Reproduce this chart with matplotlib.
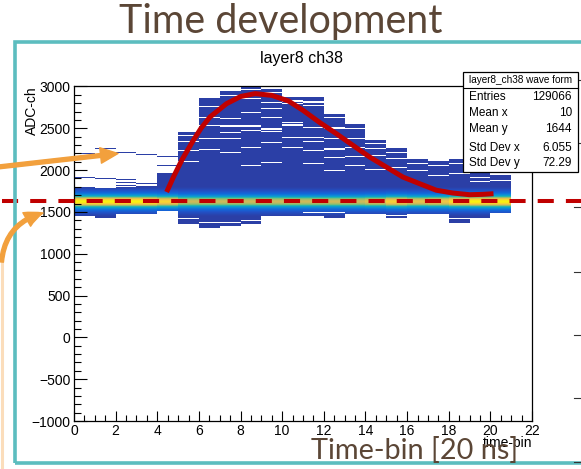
import numpy as np
import matplotlib
matplotlib.use("Agg")
import matplotlib.pyplot as plt
from matplotlib.colors import LinearSegmentedColormap
from matplotlib.patches import Rectangle, FancyArrowPatch
from matplotlib.lines import Line2D
from matplotlib.ticker import MultipleLocator

W, H, DPI = 581, 469, 100

# ------------------------------------------------------------------ data
# 2D histogram "layer8 ch38": x = time-bin (21 bins of width 1), y = ADC-ch
time_bins = list(range(0, 22))                     # bin edges 0..21
col_bottom = [1459, 1440, 1483, 1483, 1519, 1359, 1320, 1340, 1363, 1459, 1459,
              1460, 1440, 1487, 1483, 1435, 1480, 1480, 1375, 1435, 1500]
col_top = [1798, 1782, 1790, 1800, 1957, 2455, 2858, 2942, 2994, 2966, 2874,
           2874, 2667, 2547, 2356, 2260, 2129, 2109, 2129, 2129, 1937]
col_strays = [[1917, 2200], [1900, 2265], [1820, 1850, 1886, 2217], [1846, 2190],
              [2057, 2170], [], [], [], [], [], [], [], [], [], [], [], [], [], [], [], []]
col_gaps = [[], [], [], [], [],
            [2420, 2340, 2240, 2100, 1419],
            [2763, 2635, 2535, 2380, 2250, 1375],
            [2894, 2619, 2535, 2520, 2455, 2380, 2216, 1379],
            [2966, 2858, 2695, 2535, 2523, 2476, 2276, 2057, 1395],
            [2930, 2815, 2739, 2635, 2500, 2488, 2470, 2336, 2097],
            [2840, 2828, 2800, 2570, 2547, 2535, 2396, 2276],
            [2830, 2815, 2775, 2515, 2390, 2345, 2236, 2081, 1490],
            [2635, 2510, 2498, 2380, 2260, 2248, 2156, 1997, 1490],
            [2496, 2380, 2276, 2165, 2057],
            [2320, 2260, 2177, 2009],
            [2216, 2141, 2037, 1459],
            [2081, 1997],
            [2060, 1937],
            [2081, 1960, 1423],
            [2080, 1917, 1870],
            [1877]]
core_peak = [1.0, 1.0, 1.0, 1.0, 0.93, 0.8, 0.8, 0.8, 0.8, 0.8, 0.8,
             0.8, 0.8, 0.8, 0.84, 0.92, 0.86, 0.88, 0.95, 1.0, 1.0]
core_profile = [1.0, 0.98, 0.93, 0.85, 0.72, 0.58, 0.47, 0.38, 0.3, 0.24,
                0.18, 0.13, 0.09, 0.05, 0.02]
baseline_adc = 1626
adc_bin = 12
adc_lo, adc_hi = 1200, 3012

# red fitted pulse shape
fit_x = [4.45, 4.8, 5.2, 5.73, 6.1, 6.53, 7.33, 8.0, 8.7, 9.5, 10.3, 11.0, 11.8, 12.6,
         13.4, 14.2, 15.0, 15.8, 16.6, 17.4, 18.2, 19.0, 19.6, 20.15]
fit_y = [1738, 1930, 2130, 2356, 2500, 2635, 2795, 2880, 2915, 2894, 2827, 2715, 2570, 2436,
         2296, 2157, 2037, 1917, 1838, 1760, 1726, 1706, 1710, 1718]
pedestal_line = 1625

stats_title = "layer8_ch38 wave form"
stats_labels = ["Entries", "Mean x", "Mean y", "Std Dev x", "Std Dev y"]
stats_values = ["129066", "10", "1644", "6.055", "72.29"]

x_ticks = list(range(0, 23, 2))
y_ticks = list(range(-1000, 3001, 500))

# ------------------------------------------------------------------ figure
plt.rcParams["font.family"] = ["Liberation Sans", "DejaVu Sans"]
fig = plt.figure(figsize=(W / DPI, H / DPI), dpi=DPI)
fig.patch.set_facecolor("white")


def fx(px):
    return px / W


def fy(py):
    return 1 - py / H


ax = fig.add_axes([fx(74), fy(421), (532 - 74) / W, (421 - 86.5) / H])

# build histogram cells
yedges = np.arange(adc_lo, adc_hi + 1, adc_bin)
yc = (yedges[:-1] + yedges[1:]) / 2
ncol = len(col_top)
Z = np.full((len(yc), ncol), np.nan)
for c in range(ncol):
    occ = (yc >= col_bottom[c] - adc_bin / 2) & (yc <= col_top[c] + adc_bin / 2)
    for s in col_strays[c]:
        occ[int((s - adc_lo) // adc_bin)] = True
    for g in col_gaps[c]:
        occ[int((g - adc_lo) // adc_bin)] = False
    k = np.rint(np.abs(yc - baseline_adc) / adc_bin).astype(int)
    prof = np.array([core_profile[i] if i < len(core_profile) else 0.0 for i in k])
    Z[occ, c] = core_peak[c] * prof[occ]

bird = LinearSegmentedColormap.from_list("bird", [
    (0.0, "#2B3FA6"), (0.12, "#2151C6"), (0.25, "#1268DA"), (0.38, "#0E8AD6"),
    (0.5, "#0BA8C6"), (0.6, "#35B8A2"), (0.7, "#84BE74"), (0.8, "#CDB95A"),
    (0.9, "#F5C640"), (1.0, "#F9F20F")])
ax.pcolormesh(time_bins, yedges, np.ma.masked_invalid(Z), cmap=bird, vmin=0, vmax=1,
              shading="flat", antialiased=False, linewidth=0, zorder=1)

ax.plot(fit_x, fit_y, color="#C00000", lw=3.6, solid_capstyle="butt", zorder=4)
ax.plot([-0.157, 1.12], [pedestal_line, pedestal_line], transform=ax.get_yaxis_transform(),
        color="#C00000", lw=2.9, dashes=(4, 3), clip_on=False, zorder=6)

ax.set_xlim(0, 22)
ax.set_ylim(-1000, 3000)
ax.set_xticks(x_ticks)
ax.set_yticks(y_ticks)
ax.xaxis.set_minor_locator(MultipleLocator(0.5))
ax.yaxis.set_minor_locator(MultipleLocator(100))
ax.tick_params(which="both", direction="in", top=False, right=False, width=0.8,
               labelsize=10, colors="black")
ax.tick_params(axis="y", which="major", length=9.5, pad=2.5)
ax.tick_params(axis="y", which="minor", length=5)
ax.tick_params(axis="x", which="major", length=7.5, pad=2.5)
ax.tick_params(axis="x", which="minor", length=4.5)
for sp in ax.spines.values():
    sp.set_linewidth(0.9)

ax.set_ylabel("ADC-ch", fontsize=10, loc="top")
ax.yaxis.set_label_coords(-0.076, 1.0)
ax.set_xlabel("time-bin", fontsize=10, loc="right")
ax.xaxis.set_label_coords(1.0, -0.045)

# histogram title
fig.text(fx(302), fy(63.3), "layer8 ch38", ha="center", va="baseline", fontsize=11.5)

# stats box
fig.add_artist(Rectangle((fx(463), fy(172)), (578 - 463) / W, (172 - 72) / H,
                         transform=fig.transFigure, fc="white", ec="black", lw=0.9, zorder=10))
fig.add_artist(Line2D([fx(463), fx(578)], [fy(88), fy(88)], color="black", lw=0.8, zorder=11))
fig.text(fx(520.5), fy(80), stats_title, ha="center", va="center", fontsize=7.2, zorder=12)
row_y = [96.7, 113.3, 129.3, 147.7, 162.7]
for lab, val, ry in zip(stats_labels, stats_values, row_y):
    fig.text(fx(469), fy(ry), lab, ha="left", va="center", fontsize=8.5, zorder=12)
    fig.text(fx(572), fy(ry), val, ha="right", va="center", fontsize=8.5, zorder=12)

# neighbouring pad ticks at the right edge
for py in [80, 143, 207, 272, 335, 398, 462]:
    fig.add_artist(Line2D([fx(574), fx(581)], [fy(py), fy(py)], color="#333333", lw=0.8, zorder=3))

# slide decorations
teal = "#5CBDBF"
fig.add_artist(Rectangle((fx(14.7), fy(463)), (600 - 14.7) / W, (463 - 42) / H,
                         transform=fig.transFigure, fill=False, ec=teal, lw=2.6, zorder=2))
brown = "#5B4636"
t1 = fig.text(fx(280.5), fy(33), "Time development", ha="center", va="baseline",
              fontsize=27, color=brown, family="Lato", zorder=20)
t2 = fig.text(fx(311), fy(459), "Time-bin [20 ns]", ha="left", va="baseline",
              fontsize=20, color=brown, family="Lato", zorder=20)
fig.canvas.draw()
for t, target in [(t1, 324.0), (t2, 208.0)]:
    w = t.get_window_extent().width
    t.set_fontsize(t.get_fontsize() * target / w)

orange = "#F2A03D"
fig.add_artist(Line2D([fx(2.5), fx(2.5)], [fy(469), fy(258)], color="#FBDDBB", lw=2.2, zorder=7))
fig.add_artist(FancyArrowPatch((fx(-2), fy(167)), (fx(118), fy(153.5)),
                               transform=fig.transFigure, arrowstyle="simple,head_length=0.9,head_width=0.8,tail_width=0.2",
                               mutation_scale=14, color=orange, shrinkA=0, shrinkB=0, zorder=8))
fig.add_artist(FancyArrowPatch((fx(1.5), fy(262)), (fx(43), fy(213)),
                               transform=fig.transFigure, connectionstyle="arc3,rad=-0.35",
                               arrowstyle="simple,head_length=0.9,head_width=0.8,tail_width=0.2",
                               mutation_scale=14, color=orange, shrinkA=0, shrinkB=0, zorder=8))

fig.savefig("out.png", dpi=DPI)
